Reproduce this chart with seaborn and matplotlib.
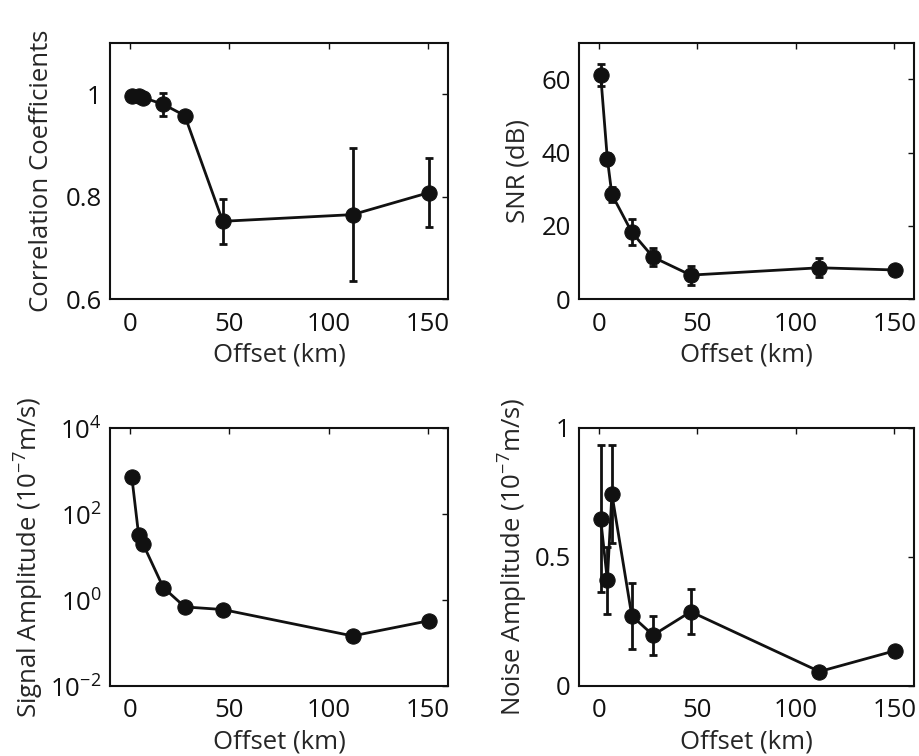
import numpy as np
import seaborn as sns
import matplotlib
matplotlib.use('Agg')
import matplotlib.pyplot as plt
from matplotlib.ticker import FixedLocator, NullLocator, FixedFormatter

# offsets (km) shared by all four panels
offset = [1.0, 4.4, 6.7, 16.8, 27.6, 46.7, 112.0, 150.5]

corr = [0.997, 0.997, 0.993, 0.980, 0.958, 0.752, 0.765, 0.808]
corr_err = [0.002, 0.002, 0.003, 0.022, 0.003, 0.044, 0.129, 0.067]

snr = [61.3, 38.3, 28.6, 18.3, 11.5, 6.6, 8.6, 8.0]
snr_err = [3.0, 1.5, 2.0, 3.5, 2.5, 2.6, 2.6, 1.0]

signal_amp = [706, 32.5, 19.7, 1.95, 0.69, 0.60, 0.146, 0.33]

noise_amp = [0.648, 0.409, 0.744, 0.272, 0.197, 0.288, 0.056, 0.137]
noise_err = [0.285, 0.13, 0.19, 0.128, 0.076, 0.087, 0.005, 0.015]

sns.set_style('white')
plt.rcParams['font.family'] = ['Open Sans', 'DejaVu Sans']
plt.rcParams['mathtext.fontset'] = 'custom'
plt.rcParams['mathtext.rm'] = 'Open Sans'

FS = 18.5

fig = plt.figure(figsize=(9.19, 7.56), dpi=100)
ax_tl = fig.add_axes([0.1197, 0.6041, 0.3678, 0.3394])
ax_tr = fig.add_axes([0.630, 0.6041, 0.3646, 0.3394])
ax_bl = fig.add_axes([0.1197, 0.0926, 0.3678, 0.3413])
ax_br = fig.add_axes([0.630, 0.0926, 0.3646, 0.3413])


def draw(ax, y, err=None):
    sns.lineplot(x=offset, y=y, ax=ax, color='#111111', linewidth=2,
                 marker='o', markersize=11, markeredgecolor='#111111',
                 estimator=None, sort=False)
    if err is not None:
        ax.errorbar(offset, y, yerr=err, fmt='none', ecolor='#111111',
                    elinewidth=2, capsize=3, capthick=2)
    ax.set_xlim(-10, 160)
    ax.xaxis.set_major_locator(FixedLocator([0, 50, 100, 150]))
    ax.set_xlabel('Offset (km)', fontsize=FS, labelpad=4)
    ax.tick_params(direction='in', length=4, width=1, top=True, right=True,
                   labelsize=FS, colors='#111111', pad=6)
    ax.tick_params(axis='x', pad=9)
    for s in ax.spines.values():
        s.set_linewidth(1.5)
        s.set_color('#111111')


draw(ax_tl, corr, corr_err)
ax_tl.set_ylim(0.6, 1.1)
ax_tl.yaxis.set_major_locator(FixedLocator([0.6, 0.8, 1.0]))
ax_tl.yaxis.set_major_formatter(FixedFormatter(['0.6', '0.8', '1']))
ax_tl.set_ylabel('Correlation Coefficients', fontsize=FS, labelpad=8)

draw(ax_tr, snr, snr_err)
ax_tr.set_ylim(0, 70)
ax_tr.yaxis.set_major_locator(FixedLocator([0, 20, 40, 60]))
ax_tr.set_ylabel('SNR (dB)', fontsize=FS, labelpad=8)

draw(ax_bl, signal_amp)
ax_bl.set_yscale('log')
ax_bl.set_ylim(1e-2, 1e4)
ax_bl.yaxis.set_major_locator(FixedLocator([1e-2, 1, 1e2, 1e4]))
ax_bl.yaxis.set_major_formatter(FixedFormatter(
    [r'$10^{-2}$', r'$10^{0}$', r'$10^{2}$', r'$10^{4}$']))
ax_bl.yaxis.set_minor_locator(NullLocator())
ax_bl.set_ylabel(r'Signal Amplitude (10$^{-7}$m/s)', fontsize=FS, labelpad=4)

draw(ax_br, noise_amp, noise_err)
ax_br.set_ylim(0, 1)
ax_br.yaxis.set_major_locator(FixedLocator([0, 0.5, 1]))
ax_br.yaxis.set_major_formatter(FixedFormatter(['0', '0.5', '1']))
ax_br.set_ylabel(r'Noise Amplitude (10$^{-7}$m/s)', fontsize=FS, labelpad=4)

fig.savefig('out.png', dpi=100)
